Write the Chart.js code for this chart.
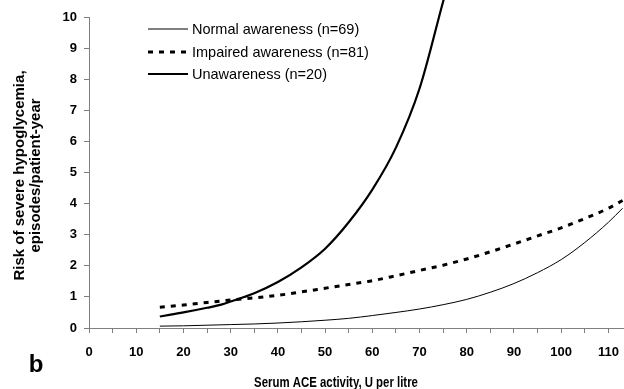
<!DOCTYPE html>
<html>
<head>
<meta charset="utf-8">
<script src="https://cdn.jsdelivr.net/npm/chart.js@4"></script>
<style>
  html, body { margin: 0; padding: 0; background: #fff; }
  canvas { display: block; }
</style>
</head>
<body>
<canvas id="riskChart" width="624" height="389"></canvas>
<script>
// Datos (riesgo vs actividad ACE)
const normalX = [15, 20, 25, 30, 35, 40, 45, 50, 55, 60, 65, 70, 75, 80, 85, 90, 95, 100, 105, 110, 113];
const normalY = [0.06, 0.07, 0.09, 0.11, 0.13, 0.16, 0.2, 0.25, 0.31, 0.4, 0.5, 0.61, 0.75, 0.92, 1.15, 1.43, 1.78, 2.2, 2.75, 3.4, 3.85];

const impairedX = [15, 20, 25, 30, 35, 40, 45, 50, 55, 60, 65, 70, 75, 80, 85, 90, 95, 100, 105, 110, 113];
const impairedY = [0.67, 0.74, 0.82, 0.9, 0.97, 1.05, 1.16, 1.28, 1.4, 1.52, 1.68, 1.85, 2.02, 2.22, 2.45, 2.7, 2.96, 3.22, 3.52, 3.85, 4.1];

const unawareX = [15, 17, 20, 25, 28, 30, 35, 40, 45, 50, 55, 60, 65, 70, 75, 77];
const unawareY = [0.37, 0.42, 0.5, 0.65, 0.75, 0.85, 1.12, 1.48, 1.95, 2.55, 3.4, 4.45, 5.8, 7.7, 10.5, 11.6];

const seriesLabels = ['Normal awareness (n=69)', 'Impaired awareness (n=81)', 'Unawareness (n=20)'];
const xTitle = 'Serum ACE activity, U per litre';
const yTitle = ['Risk of severe hypoglycemia,', 'episodes/patient-year'];
const panelLabel = 'b';

const FONT = '"Liberation Sans", Arial, Helvetica, sans-serif';
const AXIS_GREY = '#808080';

const toPoints = (xs, ys) => xs.map((x, i) => ({ x, y: ys[i] }));

/**
 * Títulos, leyenda y letra del panel dibujados a mano
 */
const annotations = {
    id: 'annotations',
    afterDraw(chart) {
        const { ctx, chartArea } = chart;
        ctx.save();
        ctx.fillStyle = '#000';

        // Título eje Y (dos líneas, rotado)
        const cy = (chartArea.top + chartArea.bottom) / 2 + 3;
        ctx.font = 'bold 15px ' + FONT;
        ctx.textAlign = 'center';
        ctx.textBaseline = 'alphabetic';
        [[23.5, yTitle[0]], [40, yTitle[1]]].forEach(([x, txt]) => {
            ctx.save();
            ctx.translate(x, cy);
            ctx.rotate(-Math.PI / 2);
            ctx.fillText(txt, 0, 0);
            ctx.restore();
        });

        // Título eje X (letra estrecha, como en el original)
        ctx.save();
        ctx.translate(336, 386.5);
        ctx.scale(0.76, 1);
        ctx.font = 'bold 15px ' + FONT;
        ctx.fillText(xTitle, 0, 0);
        ctx.restore();

        // Letra del panel
        ctx.font = 'bold 24px ' + FONT;
        ctx.fillText(panelLabel, 36, 372);

        // Leyenda
        ctx.font = '14.5px ' + FONT;
        ctx.textAlign = 'left';
        ctx.textBaseline = 'middle';
        const rows = [29, 52, 74];
        chart.data.datasets.forEach((ds, i) => {
            const y = rows[i];
            ctx.beginPath();
            ctx.strokeStyle = ds.borderColor;
            ctx.lineWidth = ds.borderWidth;
            ctx.setLineDash(ds.borderDash || []);
            ctx.moveTo(148, y);
            ctx.lineTo(188, y);
            ctx.stroke();
            ctx.setLineDash([]);
            ctx.fillText(seriesLabels[i], 192, y + 1);
        });
        ctx.restore();
    }
};

const chart = new Chart(document.getElementById('riskChart'), {
    type: 'line',
    data: {
        datasets: [
            {
                label: seriesLabels[0],
                data: toPoints(normalX, normalY),
                borderColor: '#000',
                borderWidth: 1,
                pointRadius: 0,
                cubicInterpolationMode: 'monotone'
            },
            {
                label: seriesLabels[1],
                data: toPoints(impairedX, impairedY),
                borderColor: '#000',
                borderWidth: 3,
                borderDash: [5, 6],
                pointRadius: 0,
                cubicInterpolationMode: 'monotone'
            },
            {
                label: seriesLabels[2],
                data: toPoints(unawareX, unawareY),
                borderColor: '#000',
                borderWidth: 2.2,
                pointRadius: 0,
                cubicInterpolationMode: 'monotone',
                clip: false
            }
        ]
    },
    options: {
        responsive: false,
        animation: false,
        layout: { padding: { left: 0, top: 17, right: 0, bottom: 0 } },
        plugins: {
            legend: { display: false },
            tooltip: { enabled: false }
        },
        scales: {
            x: {
                type: 'linear',
                min: 0,
                max: 113.3,
                afterFit(scale) {
                    scale.height = 61;
                    scale.paddingLeft = 0;
                    scale.paddingRight = 0;
                },
                border: { color: AXIS_GREY, width: 1 },
                grid: { drawOnChartArea: false, drawTicks: true, tickLength: 5, color: AXIS_GREY },
                ticks: {
                    stepSize: 5,
                    includeBounds: false,
                    autoSkip: false,
                    maxRotation: 0,
                    padding: 12,
                    color: '#000',
                    font: { family: FONT, size: 13, weight: 'bold' },
                    callback: (v) => (v % 10 === 0 ? v : '')
                }
            },
            y: {
                min: 0,
                max: 10,
                afterFit(scale) { scale.width = 89; },
                border: { color: AXIS_GREY, width: 1 },
                grid: { drawOnChartArea: false, drawTicks: true, tickLength: 5, color: AXIS_GREY },
                ticks: {
                    stepSize: 1,
                    padding: 7,
                    color: '#000',
                    font: { family: FONT, size: 13, weight: 'bold' }
                }
            }
        }
    },
    plugins: [annotations]
});
</script>
</body>
</html>
